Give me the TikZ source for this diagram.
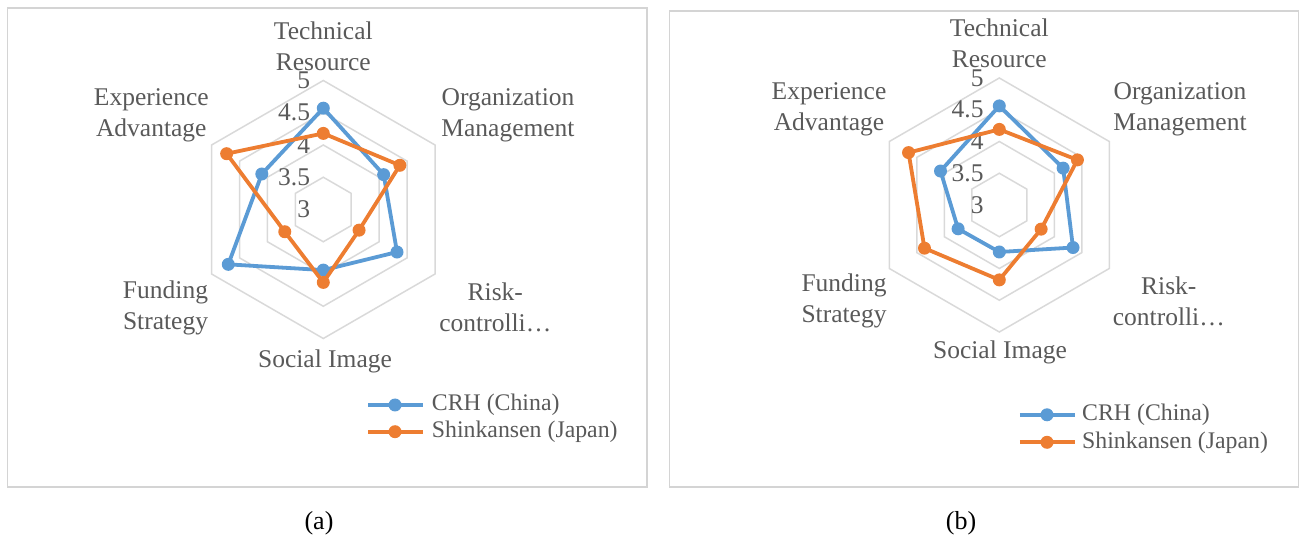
\documentclass[tikz,border=0pt]{standalone}
\usepackage{fontspec}
\setmainfont{Liberation Serif}
\definecolor{labelgray}{HTML}{595959}
\definecolor{gridgray}{HTML}{D9D9D9}
\definecolor{framegray}{HTML}{D4D4D4}
\definecolor{crhblue}{HTML}{5B9BD5}
\definecolor{shkorange}{HTML}{ED7D31}

\begin{document}
\begin{tikzpicture}[x=1pt,y=1pt]
        \tikzset{hexring/.style = {draw=gridgray, line width=1.5pt}}
        \tikzset{panel/.style = {draw=framegray, line width=1.4pt}}
        \tikzset{crhline/.style = {draw=crhblue, line width=3.8pt, line join=round}}
        \tikzset{shkline/.style = {draw=shkorange, line width=3.8pt, line join=round}}
        \tikzset{crhdot/.style = {shape=circle, fill=crhblue, inner sep=0pt, minimum size=13pt}}
        \tikzset{shkdot/.style = {shape=circle, fill=shkorange, inner sep=0pt, minimum size=13pt}}
        \tikzset{category/.style = {text=labelgray, align=center, inner sep=0pt, font=\fontsize{25.5}{31}\selectfont}}
        \tikzset{ticklabel/.style = {text=labelgray, anchor=east, inner sep=0pt, font=\fontsize{25.5}{31}\selectfont}}
        \tikzset{legendtext/.style = {text=labelgray, anchor=west, inner sep=0pt, font=\fontsize{23.8}{28}\selectfont}}
        \tikzset{panelcaption/.style = {inner sep=0pt, font=\fontsize{26}{31}\selectfont}}
        \useasboundingbox (0,0) rectangle (1300,538);

        \draw[panel] (7.5,51) rectangle (647,530);
        \draw[panel] (669.5,51) rectangle (1298.5,527);
        \node[panelcaption] (capA) at (319,15) {(a)};
        \node[panelcaption] (capB) at (961,15) {(b)};

        % (a)
        \begin{scope}[shift={(323.3,328.5)}]
        \draw[hexring] (90:32.25) -- (30:32.25) -- (-30:32.25) -- (-90:32.25) -- (210:32.25) -- (150:32.25) -- cycle;
        \draw[hexring] (90:64.5) -- (30:64.5) -- (-30:64.5) -- (-90:64.5) -- (210:64.5) -- (150:64.5) -- cycle;
        \draw[hexring] (90:96.75) -- (30:96.75) -- (-30:96.75) -- (-90:96.75) -- (210:96.75) -- (150:96.75) -- cycle;
        \draw[hexring] (90:129) -- (30:129) -- (-30:129) -- (-90:129) -- (210:129) -- (150:129) -- cycle;

        \node[ticklabel] (aTick1) at (-13,0) {3};
        \node[ticklabel] (aTick2) at (-13,32.25) {3.5};
        \node[ticklabel] (aTick3) at (-13,64.5) {4};
        \node[ticklabel] (aTick4) at (-13,96.75) {4.5};
        \node[ticklabel] (aTick5) at (-13,129) {5};

        \node[category] (aTech) at (0,163) {Technical\\Resource};
        \node[category] (aOrg) at (184.7,94.5) {Organization\\Management};
        \node[category] (aRisk) at (172,-98) {Risk-\\controlli…};
        \node[category] (aSoc) at (1.7,-151.5) {Social Image};
        \node[category] (aFund) at (-157.8,-98) {Funding\\Strategy};
        \node[category] (aExp) at (-172,94.5) {Experience\\Advantage};

        \node[crhdot] (aC1) at (90:101.3) {};
        \node[crhdot] (aC2) at (30:69.7) {};
        \node[crhdot] (aC3) at (-30:85.1) {};
        \node[crhdot] (aC4) at (-90:60.6) {};
        \node[crhdot] (aC5) at (210:109.7) {};
        \node[crhdot] (aC6) at (150:71.0) {};
        \node[shkdot] (aS1) at (90:76.1) {};
        \node[shkdot] (aS2) at (30:88.4) {};
        \node[shkdot] (aS3) at (-30:41.3) {};
        \node[shkdot] (aS4) at (-90:72.9) {};
        \node[shkdot] (aS5) at (210:44.5) {};
        \node[shkdot] (aS6) at (150:111.6) {};
        \draw[crhline] (aC1.center) -- (aC2.center) -- (aC3.center) -- (aC4.center) -- (aC5.center) -- (aC6.center) -- cycle;
        \draw[shkline] (aS1.center) -- (aS2.center) -- (aS3.center) -- (aS4.center) -- (aS5.center) -- (aS6.center) -- cycle;

        \coordinate (aKey1w) at (44.7,-195.5);
        \coordinate (aKey1e) at (99.7,-195.5);
        \coordinate (aKey2w) at (44.7,-222.2);
        \coordinate (aKey2e) at (99.7,-222.2);
        \draw[crhline] (aKey1w) -- (aKey1e);
        \draw[shkline] (aKey2w) -- (aKey2e);
        \node[crhdot] (aKey1) at (71.7,-195.5) {};
        \node[shkdot] (aKey2) at (71.7,-222.2) {};
        \node[legendtext] (aKey1t) at (108.4,-195.5) {CRH (China)};
        \node[legendtext] (aKey2t) at (108.4,-222.2) {Shinkansen (Japan)};
        \end{scope}

        % (b)
        \begin{scope}[shift={(999.3,333)}]
        \draw[hexring] (90:31.75) -- (30:31.75) -- (-30:31.75) -- (-90:31.75) -- (210:31.75) -- (150:31.75) -- cycle;
        \draw[hexring] (90:63.5) -- (30:63.5) -- (-30:63.5) -- (-90:63.5) -- (210:63.5) -- (150:63.5) -- cycle;
        \draw[hexring] (90:95.25) -- (30:95.25) -- (-30:95.25) -- (-90:95.25) -- (210:95.25) -- (150:95.25) -- cycle;
        \draw[hexring] (90:127) -- (30:127) -- (-30:127) -- (-90:127) -- (210:127) -- (150:127) -- cycle;

        \node[ticklabel] (bTick1) at (-15.5,0) {3};
        \node[ticklabel] (bTick2) at (-15.5,31.75) {3.5};
        \node[ticklabel] (bTick3) at (-15.5,63.5) {4};
        \node[ticklabel] (bTick4) at (-15.5,95.25) {4.5};
        \node[ticklabel] (bTick5) at (-15.5,127) {5};

        \node[category] (bTech) at (0,162) {Technical\\Resource};
        \node[category] (bOrg) at (180.7,95.4) {Organization\\Management};
        \node[category] (bRisk) at (169.5,-96.3) {Risk-\\controlli…};
        \node[category] (bSoc) at (0.7,-147.8) {Social Image};
        \node[category] (bFund) at (-155.3,-96.3) {Funding\\Strategy};
        \node[category] (bExp) at (-170.3,95.4) {Experience\\Advantage};

        \node[crhdot] (bC1) at (90:99.1) {};
        \node[crhdot] (bC2) at (30:73.7) {};
        \node[crhdot] (bC3) at (-30:85.1) {};
        \node[crhdot] (bC4) at (-90:47.0) {};
        \node[crhdot] (bC5) at (210:47.6) {};
        \node[crhdot] (bC6) at (150:67.9) {};
        \node[shkdot] (bS1) at (90:75.6) {};
        \node[shkdot] (bS2) at (30:90.2) {};
        \node[shkdot] (bS3) at (-30:48.3) {};
        \node[shkdot] (bS4) at (-90:74.9) {};
        \node[shkdot] (bS5) at (210:86.4) {};
        \node[shkdot] (bS6) at (150:104.8) {};
        \draw[crhline] (bC1.center) -- (bC2.center) -- (bC3.center) -- (bC4.center) -- (bC5.center) -- (bC6.center) -- cycle;
        \draw[shkline] (bS1.center) -- (bS2.center) -- (bS3.center) -- (bS4.center) -- (bS5.center) -- (bS6.center) -- cycle;

        \coordinate (bKey1w) at (20.5,-209.8);
        \coordinate (bKey1e) at (75.3,-209.8);
        \coordinate (bKey2w) at (20.5,-237.3);
        \coordinate (bKey2e) at (75.3,-237.3);
        \draw[crhline] (bKey1w) -- (bKey1e);
        \draw[shkline] (bKey2w) -- (bKey2e);
        \node[crhdot] (bKey1) at (47.7,-209.8) {};
        \node[shkdot] (bKey2) at (47.7,-237.3) {};
        \node[legendtext] (bKey1t) at (82.7,-209.8) {CRH (China)};
        \node[legendtext] (bKey2t) at (82.7,-237.3) {Shinkansen (Japan)};
        \end{scope}
\end{tikzpicture}
\end{document}
